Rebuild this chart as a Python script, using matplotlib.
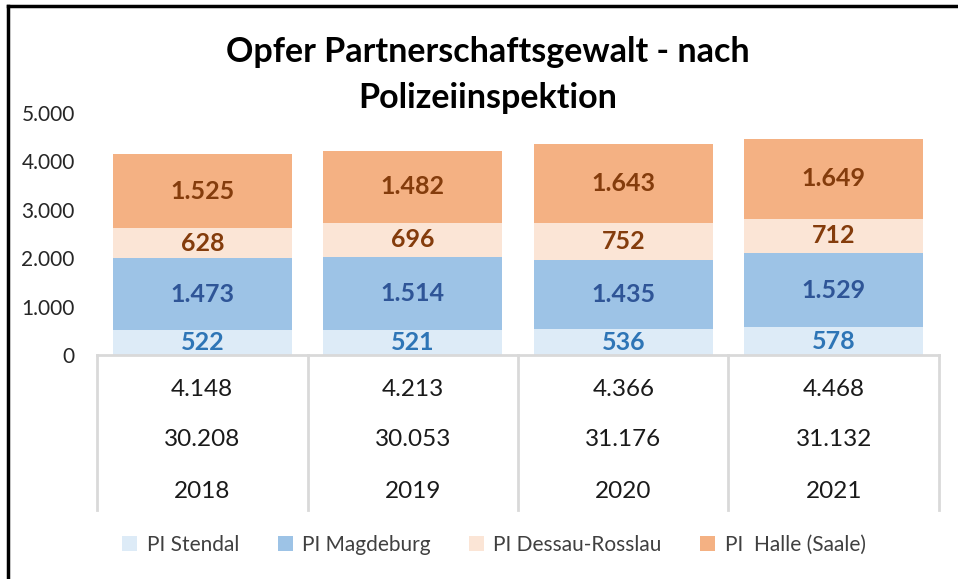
import matplotlib.pyplot as plt
from matplotlib.lines import Line2D
from matplotlib.patches import Patch

plt.rcParams['font.family'] = ['Lato', 'DejaVu Sans']

years = ['2018', '2019', '2020', '2021']
stendal = [522, 521, 536, 578]
magdeburg = [1473, 1514, 1435, 1529]
dessau = [628, 696, 752, 712]
halle = [1525, 1482, 1643, 1649]
totals = [4148, 4213, 4366, 4468]
row2 = [30208, 30053, 31176, 31132]

series = [
    ('PI Stendal', stendal, '#DDEBF7', '#2E75B6'),
    ('PI Magdeburg', magdeburg, '#9DC3E6', '#2F5597'),
    ('PI Dessau-Rosslau', dessau, '#FBE5D6', '#843C0C'),
    ('PI  Halle (Saale)', halle, '#F4B183', '#843C0C'),
]


def de(v):
    return f'{v:,}'.replace(',', '.')


W, H = 958, 579
fig = plt.figure(figsize=(W / 100, H / 100), dpi=100)
ax = fig.add_axes([97 / W, (H - 355) / H, (939 - 97) / W, (355 - 113) / H])

x = list(range(len(years)))
bottom = [0] * len(years)
for name, vals, col, tcol in series:
    ax.bar(x, vals, 0.85, bottom=bottom, color=col, label=name)
    for i, v in enumerate(vals):
        ax.text(i, bottom[i] + v / 2, de(v), ha='center', va='center',
                fontsize=18, fontweight='bold', color=tcol)
    bottom = [b + v for b, v in zip(bottom, vals)]

ax.set_xlim(-0.5, 3.5)
ax.set_ylim(0, 5000)
ax.set_yticks([0, 1000, 2000, 3000, 4000, 5000])
ax.set_yticklabels([de(v) for v in [0, 1000, 2000, 3000, 4000, 5000]])
ax.tick_params(axis='y', length=0, pad=16, labelsize=15, labelcolor='#262626')
ax.set_xticks([])
for s in ax.spines.values():
    s.set_visible(False)

# data table below the axis
tr = ax.get_xaxis_transform()
row_y = [-(390 - 355) / 242, -(440 - 355) / 242, -(492 - 355) / 242]
tab_bottom = -(510 - 355) / 242
for i in x:
    ax.text(i, row_y[0], de(totals[i]), transform=tr, ha='center', va='center',
            fontsize=17.5, color='#1a1a1a', clip_on=False)
    ax.text(i, row_y[1], de(row2[i]), transform=tr, ha='center', va='center',
            fontsize=17.5, color='#1a1a1a', clip_on=False)
    ax.text(i, row_y[2], years[i], transform=tr, ha='center', va='center',
            fontsize=17.5, color='#1a1a1a', clip_on=False)
for xb in [-0.5, 0.5, 1.5, 2.5, 3.5]:
    ax.add_line(Line2D([xb, xb], [0, tab_bottom], transform=tr, color='#D9D9D9',
                       lw=2, clip_on=False))
ax.add_line(Line2D([-0.5, 3.5], [0, 0], transform=tr, color='#D9D9D9', lw=2,
                   clip_on=False))

fig.text(488 / W, 1 - 75 / H, 'Opfer Partnerschaftsgewalt - nach\nPolizeiinspektion',
         ha='center', va='center', fontsize=24.5, fontweight='bold',
         linespacing=1.5, color='black')

handles = [Patch(facecolor=c, label=n) for n, _, c, _ in series]
fig.legend(handles=handles, loc='center', bbox_to_anchor=(494 / W, 1 - 545 / H),
           ncol=4, frameon=False, fontsize=15, handlelength=0.72, handleheight=0.72,
           handletextpad=0.45, columnspacing=1.85, labelcolor='#404040')

# outer frame (only left and top visible)
fig.add_artist(Line2D([8 / W, 8 / W], [0, 1 - 6 / H], transform=fig.transFigure,
                      color='black', lw=2.5))
fig.add_artist(Line2D([8 / W, 1], [1 - 6 / H, 1 - 6 / H], transform=fig.transFigure,
                      color='black', lw=2.5))

fig.savefig('out.png', dpi=100)
